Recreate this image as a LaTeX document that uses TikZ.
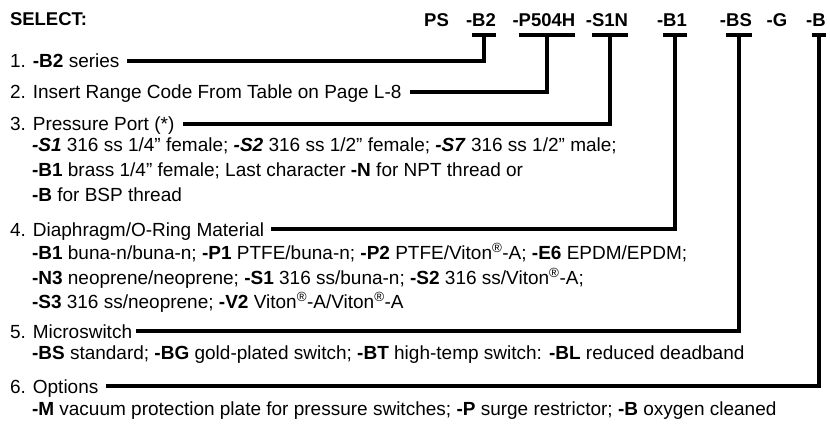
\documentclass[tikz,border=0pt]{standalone}
\usepackage{fontspec}
\setmainfont{Liberation Sans}
\newcommand{\regmark}{\textsuperscript{\textregistered}}
\newcommand{\bi}[1]{\textbf{\textit{#1}}}
\begin{document}
\begin{tikzpicture}[x=1pt, y=-1pt, font=\fontsize{19}{23}\selectfont,
    txt/.style={anchor=base west, inner sep=0pt, outer sep=0pt},
    item/.style={txt, text height=13.6pt, text depth=0pt},
    code/.style={anchor=base, inner sep=0pt, outer sep=0pt, font=\fontsize{18.5}{22}\selectfont\bfseries, text height=13.4pt, text depth=8pt},
    lead/.style={line width=3.8pt}]
    \useasboundingbox (0,0) rectangle (830,425);

    % Code row
    \node[txt, font=\fontsize{18.5}{22}\selectfont\bfseries] (sel) at (10,26) {SELECT:};
    \node[code] (cPS) at (436.5,27) {PS};
    \foreach \c/\x in {B2/484, P504H/547, S1N/610, B1/675, BS/739, G/780, B/819}{
        \node[code] (c\c) at (\x,27) {\c};
        \node[code, anchor=base east] (h\c) at (c\c.base west) {-};
    }
    \foreach \c in {B2, P504H, S1N, B1, BS, B}
        \draw[lead] (c\c.south west) -- (c\c.south east);

    % Items
    \node[item] (i1) at (10,68) {1. \textbf{-B2} series};
    \node[item] (i2) at (10,99) {2. Insert Range Code From Table on Page L-8};
    \node[item] (i3) at (10,131) {3. Pressure Port (*)};
    \node[txt] (d3a) at (32,152) {\bi{-S1} 316 ss 1/4” female; \bi{-S2} 316 ss 1/2” female; \bi{-S7} 316 ss 1/2” male;};
    \node[txt] (d3b) at (32,176) {\textbf{-B1} brass 1/4” female; Last character \textbf{-N} for NPT thread or};
    \node[txt] (d3c) at (32,201) {\textbf{-B} for BSP thread};
    \node[item] (i4) at (10,236) {4. Diaphragm/O-Ring Material};
    \node[txt] (d4a) at (32,259) {\textbf{-B1} buna-n/buna-n; \textbf{-P1} PTFE/buna-n; \textbf{-P2} PTFE/Viton\regmark-A; \textbf{-E6} EPDM/EPDM;};
    \node[txt] (d4b) at (32,284) {\textbf{-N3} neoprene/neoprene; \textbf{-S1} 316 ss/buna-n; \textbf{-S2} 316 ss/Viton\regmark-A;};
    \node[txt] (d4c) at (32,308) {\textbf{-S3} 316 ss/neoprene; \textbf{-V2} Viton\regmark-A/Viton\regmark-A};
    \node[item] (i5) at (10,338) {5. Microswitch};
    \node[txt] (d5a) at (32,359) {\textbf{-BS} standard; \textbf{-BG} gold-plated switch; \textbf{-BT} high-temp switch: \textbf{-BL} reduced deadband};
    \node[item] (i6) at (10,393) {6. Options};
    \node[txt] (d6a) at (32,415) {\textbf{-M} vacuum protection plate for pressure switches; \textbf{-P} surge restrictor; \textbf{-B} oxygen cleaned};

    % Leader lines
    \draw[lead] ([xshift=8pt]i1.east) -| (cB2.south);
    \draw[lead] ([xshift=9pt]i2.east) -| (cP504H.south);
    \draw[lead] ([xshift=9pt]i3.east) -| (cS1N.south);
    \draw[lead] ([xshift=7pt]i4.east) -| (cB1.south);
    \draw[lead] ([xshift=4pt]i5.east) -| (cBS.south);
    \draw[lead] ([xshift=8pt]i6.east) -| (cB.south);
\end{tikzpicture}
\end{document}
